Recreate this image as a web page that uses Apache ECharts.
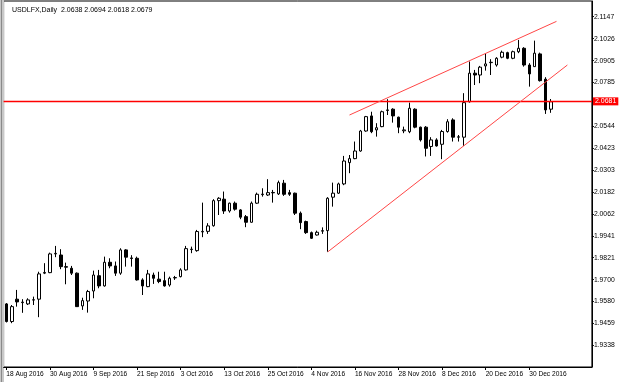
<!DOCTYPE html>
<html>
<head>
<meta charset="utf-8">
<title>USDLFX,Daily</title>
<script src="https://cdn.jsdelivr.net/npm/echarts@6.0.0/dist/echarts.min.js"></script>
<style>
  html, body { margin: 0; padding: 0; background: #fff; }
  #chart { width: 625px; height: 382px; }
</style>
</head>
<body>
<div id="chart"></div>
<script>
// trading days on the chart (one candle per day)
var augDays = [18, 19, 22, 23, 24, 25, 26, 29, 30, 31];
var sepDays = [1, 2, 5, 6, 7, 8, 9, 12, 13, 14, 15, 16, 19, 20, 21, 22, 23, 26, 27, 28, 29, 30];
var octDays = [3, 4, 5, 6, 7, 10, 11, 12, 13, 14, 17, 18, 19, 20, 21, 24, 25, 26, 27, 28, 31];
var novDays = [1, 2, 3, 4, 7, 8, 9, 10, 11, 14, 15, 16, 17, 18, 21, 22, 23, 24, 25, 28, 29, 30];
var decDays = [1, 2, 5, 6, 7, 8, 9, 12, 13, 14, 15, 16, 19, 20, 21, 22, 23, 26, 27, 28, 29, 30];
var janDays = [2, 3, 4, 5];

// OHLC
var opens = [1.9567, 1.9470, 1.9593, 1.9574, 1.9567, 1.9588, 1.9593, 1.9736, 1.9739, 1.9842,
  1.9836, 1.9772, 1.9763, 1.9736, 1.9556, 1.9583, 1.9638, 1.9722, 1.9666, 1.9796,
  1.9776, 1.9736, 1.9864, 1.9820, 1.9818, 1.9699, 1.9662, 1.9726, 1.9703, 1.9695,
  1.9671, 1.9710, 1.9717, 1.9754, 1.9866, 1.9860, 1.9963, 1.9966, 1.9997, 2.0135,
  2.0143, 2.0078, 2.0121, 2.0084, 2.0047, 2.0016, 2.0121, 2.0168, 2.0166, 2.0180,
  2.0172, 2.0231, 2.0179, 2.0176, 2.0066, 2.0020, 1.9959, 1.9946, 1.9967, 1.9970,
  2.0154, 2.0176, 2.0227, 2.0344, 2.0366, 2.0408, 2.0518, 2.0601, 2.0524, 2.0542,
  2.0631, 2.0638, 2.0594, 2.0519, 2.0514, 2.0638, 2.0539, 2.0539, 2.0433, 2.0469,
  2.0445, 2.0515, 2.0579, 2.0484, 2.0484, 2.0679, 2.0836, 2.0826, 2.0876, 2.0894,
  2.0881, 2.0924, 2.0949, 2.0918, 2.0954, 2.0973, 2.0881, 2.0872, 2.0942, 2.0803,
  2.0638];
var highs = [1.9572, 1.9561, 1.9644, 1.9593, 1.9598, 1.9607, 1.9744, 1.9791, 1.9849, 1.9886,
  1.9868, 1.9794, 1.9776, 1.9740, 1.9601, 1.9644, 1.9750, 1.9754, 1.9827, 1.9818,
  1.9800, 1.9873, 1.9868, 1.9835, 1.9827, 1.9708, 1.9754, 1.9739, 1.9744, 1.9744,
  1.9717, 1.9721, 1.9763, 1.9886, 1.9882, 1.9974, 2.0124, 2.0011, 2.0143, 2.0154,
  2.0185, 2.0124, 2.0130, 2.0088, 2.0056, 2.0130, 2.0179, 2.0203, 2.0253, 2.0194,
  2.0245, 2.0249, 2.0194, 2.0179, 2.0075, 2.0025, 1.9965, 1.9970, 1.9988, 2.0154,
  2.0234, 2.0234, 2.0381, 2.0386, 2.0460, 2.0524, 2.0601, 2.0624, 2.0561, 2.0630,
  2.0693, 2.0643, 2.0597, 2.0542, 2.0674, 2.0643, 2.0542, 2.0545, 2.0484, 2.0478,
  2.0524, 2.0583, 2.0588, 2.0496, 2.0726, 2.0900, 2.0854, 2.0876, 2.0946, 2.0913,
  2.0924, 2.0960, 2.0954, 2.0960, 2.1019, 2.0979, 2.0891, 2.1015, 2.0949, 2.0814,
  2.0694];
var lows = [1.9465, 1.9461, 1.9552, 1.9518, 1.9561, 1.9561, 1.9494, 1.9731, 1.9736, 1.9824,
  1.9758, 1.9675, 1.9726, 1.9550, 1.9534, 1.9519, 1.9598, 1.9653, 1.9662, 1.9763,
  1.9721, 1.9727, 1.9772, 1.9772, 1.9695, 1.9616, 1.9659, 1.9677, 1.9681, 1.9662,
  1.9662, 1.9699, 1.9713, 1.9750, 1.9846, 1.9854, 1.9934, 1.9952, 1.9992, 2.0056,
  2.0062, 2.0069, 2.0080, 2.0033, 1.9989, 2.0014, 2.0117, 2.0157, 2.0161, 2.0124,
  2.0166, 2.0161, 2.0161, 2.0056, 1.9978, 1.9952, 1.9924, 1.9943, 1.9952, 1.9854,
  2.0102, 2.0172, 2.0220, 2.0286, 2.0363, 2.0404, 2.0514, 2.0506, 2.0487, 2.0539,
  2.0606, 2.0564, 2.0506, 2.0506, 2.0506, 2.0533, 2.0460, 2.0378, 2.0381, 2.0432,
  2.0363, 2.0509, 2.0460, 2.0460, 2.0436, 2.0674, 2.0771, 2.0781, 2.0850, 2.0826,
  2.0872, 2.0918, 2.0913, 2.0913, 2.0946, 2.0872, 2.0762, 2.0872, 2.0790, 2.0612,
  2.0618];
var closes = [1.9470, 1.9552, 1.9578, 1.9577, 1.9589, 1.9590, 1.9732, 1.9740, 1.9842, 1.9845,
  1.9772, 1.9769, 1.9736, 1.9552, 1.9585, 1.9635, 1.9726, 1.9666, 1.9796, 1.9776,
  1.9736, 1.9864, 1.9824, 1.9817, 1.9699, 1.9666, 1.9732, 1.9708, 1.9690, 1.9666,
  1.9708, 1.9712, 1.9754, 1.9871, 1.9868, 1.9965, 1.9966, 1.9996, 2.0135, 2.0148,
  2.0078, 2.0121, 2.0088, 2.0044, 2.0016, 2.0121, 2.0170, 2.0171, 2.0179, 2.0178,
  2.0234, 2.0170, 2.0170, 2.0066, 2.0014, 1.9959, 1.9928, 1.9961, 1.9970, 2.0148,
  2.0176, 2.0227, 2.0353, 2.0366, 2.0408, 2.0518, 2.0597, 2.0514, 2.0536, 2.0624,
  2.0634, 2.0601, 2.0539, 2.0524, 2.0643, 2.0539, 2.0469, 2.0423, 2.0469, 2.0436,
  2.0515, 2.0569, 2.0484, 2.0486, 2.0674, 2.0836, 2.0826, 2.0869, 2.0887, 2.0896,
  2.0918, 2.0951, 2.0918, 2.0954, 2.0973, 2.0881, 2.0832, 2.0946, 2.0795, 2.0634,
  2.0679];

// price scale labels on the right (2.0664 is hidden under the price box)
var yTicks = [2.1147, 2.1026, 2.0905, 2.0785, 2.0544, 2.0423, 2.0303, 2.0182,
  2.0062, 1.9941, 1.9821, 1.9700, 1.9580, 1.9459, 1.9338];
var priceLine = 2.0681;
// trend lines, [candle index, price]
var upperTrend = [[63, 2.0606], [101, 2.1121]];
var lowerTrend = [[59, 1.9853], [103, 2.0881]];
var emptyBars = 7; // chart shift on the right
var labelStep = 8;

var months = [['Aug 2016', augDays], ['Sep 2016', sepDays], ['Oct 2016', octDays],
  ['Nov 2016', novDays], ['Dec 2016', decDays], ['Jan 2017', janDays]];
var categories = [];
months.forEach(function (m) {
  m[1].forEach(function (d) { categories.push(d + ' ' + m[0]); });
});
for (var i = 0; i < emptyBars; i++) categories.push('');

var candles = [];
for (var j = 0; j < opens.length; j++) {
  candles.push([opens[j], closes[j], lows[j], highs[j]]); // echarts order: o,c,l,h
}
var last = opens.length - 1;

var font = 'Liberation Sans';
var showLabel = function (index) {
  return index % labelStep === 0 && index < opens.length;
};

var myChart = echarts.init(document.getElementById('chart'));
var option = {
  animation: false,
  backgroundColor: '#fff',
  textStyle: { fontFamily: font },
  title: {
    text: 'USDLFX,Daily  ' + [opens[last], highs[last], lows[last], closes[last]].map(function (v) { return v.toFixed(4); }).join(' '),
    left: 7,
    top: 2,
    textStyle: { fontSize: 7, fontWeight: 'normal', color: '#000', fontFamily: font }
  },
  grid: {
    left: 3.6, right: 33.1, top: 1, bottom: 15,
    show: true, borderColor: '#000', borderWidth: 1, backgroundColor: '#fff'
  },
  xAxis: {
    type: 'category',
    data: categories,
    boundaryGap: true,
    axisLine: { show: true, lineStyle: { color: '#000' } },
    axisTick: { show: true, alignWithLabel: true, length: 3, interval: showLabel, lineStyle: { color: '#000' } },
    axisLabel: { interval: showLabel, align: 'left', margin: 4, fontSize: 6.6, color: '#000', fontFamily: font },
    splitLine: { show: false }
  },
  yAxis: {
    type: 'value',
    position: 'right',
    min: 1.9220,
    max: 2.1233,
    axisLine: { show: true, lineStyle: { color: '#000' } },
    axisTick: { show: true, length: 2, customValues: yTicks, lineStyle: { color: '#000' } },
    axisLabel: {
      customValues: yTicks, margin: 2, fontSize: 6.8, color: '#000', fontFamily: font,
      formatter: function (v) { return v.toFixed(4); }
    },
    splitLine: { show: false }
  },
  graphic: [
    // window frame on the left
    { type: 'rect', shape: { x: 0, y: 0, width: 4, height: 382 }, style: { fill: '#c8c8c8' } },
    { type: 'rect', shape: { x: 1, y: 0, width: 1, height: 382 }, style: { fill: '#8a8a8a' } }
  ],
  series: [{
    name: 'USDLFX',
    type: 'candlestick',
    data: candles,
    barWidth: 3,
    itemStyle: {
      color: '#fff', color0: '#000',
      borderColor: '#000', borderColor0: '#000', borderWidth: 1
    },
    markLine: {
      silent: true,
      precision: 4, // default 2 rounds the price line to 2.07
      symbol: ['none', 'none'],
      animation: false,
      label: { show: false },
      lineStyle: { color: '#ff4646', width: 1, type: 'solid' },
      data: [
        {
          yAxis: priceLine,
          lineStyle: { color: '#ff0000', width: 1.3, type: 'solid' },
          label: {
            show: true, position: 'end', distance: 1,
            formatter: priceLine.toFixed(4),
            color: '#fff', backgroundColor: '#ff0000', padding: [1, 2, 0, 2],
            fontSize: 7, fontFamily: font
          }
        },
        [{ coord: upperTrend[0] }, { coord: upperTrend[1] }],
        [{ coord: lowerTrend[0] }, { coord: lowerTrend[1] }]
      ]
    }
  }]
};
myChart.setOption(option);
</script>
</body>
</html>
